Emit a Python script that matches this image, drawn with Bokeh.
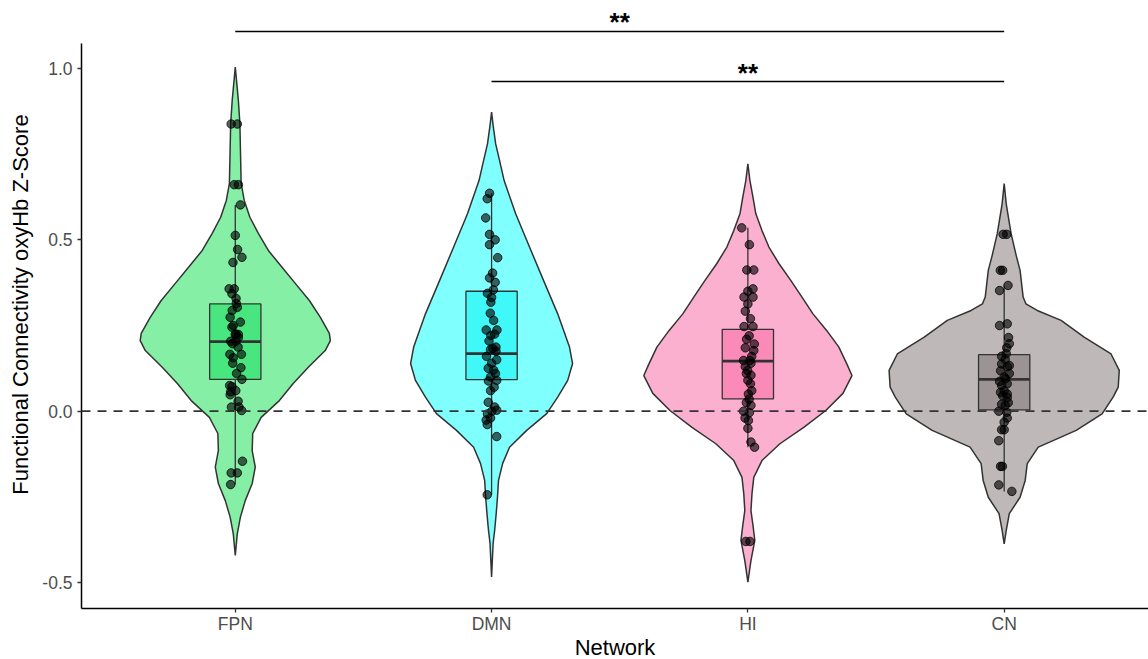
import numpy as np
from bokeh.plotting import figure
from bokeh.models import Range1d, FixedTicker, NumeralTickFormatter, Span, Title
from bokeh.embed import file_html
from bokeh.resources import INLINE
from bokeh.core.properties import value

# ---------------- data ----------------
categories = ["FPN", "DMN", "HI", "CN"]

# violin outlines: y levels and half-widths (category units)
fpn_vy = [1.004, 0.907, 0.839, 0.732, 0.664, 0.615, 0.566, 0.519, 0.469, 0.422, 0.373, 0.323,
          0.274, 0.227, 0.206, 0.177, 0.128, 0.081, 0.031, -0.018, -0.065, -0.115, -0.163,
          -0.211, -0.261, -0.309, -0.357, -0.421]
fpn_vw = [0.0, 0.012, 0.018, 0.021, 0.023, 0.035, 0.057, 0.090, 0.129, 0.180, 0.234, 0.289,
          0.332, 0.367, 0.371, 0.351, 0.285, 0.226, 0.172, 0.101, 0.068, 0.066, 0.078,
          0.066, 0.039, 0.020, 0.008, 0.0]
dmn_vy = [0.873, 0.834, 0.780, 0.732, 0.673, 0.576, 0.479, 0.381, 0.284, 0.187, 0.139, 0.090,
          0.041, -0.007, -0.056, -0.105, -0.153, -0.202, -0.251, -0.299, -0.348, -0.386, -0.484]
dmn_vw = [0.0, 0.006, 0.016, 0.031, 0.049, 0.094, 0.148, 0.203, 0.258, 0.304, 0.316, 0.297,
          0.258, 0.215, 0.137, 0.070, 0.043, 0.027, 0.023, 0.018, 0.012, 0.006, 0.0]
hi_vy = [0.722, 0.673, 0.624, 0.576, 0.527, 0.479, 0.431, 0.381, 0.333, 0.284, 0.235, 0.187,
         0.138, 0.104, 0.052, 0.002, -0.047, -0.095, -0.144, -0.193, -0.241, -0.290, -0.334,
         -0.377, -0.436, -0.499]
hi_vw = [0.0, 0.008, 0.020, 0.031, 0.055, 0.082, 0.121, 0.168, 0.211, 0.254, 0.308, 0.355,
         0.386, 0.406, 0.371, 0.304, 0.218, 0.125, 0.055, 0.023, 0.016, 0.012, 0.020,
         0.027, 0.012, 0.0]
cn_vy = [0.664, 0.605, 0.518, 0.454, 0.411, 0.333, 0.313, 0.294, 0.265, 0.216, 0.167, 0.119,
         0.070, 0.041, -0.008, -0.056, -0.105, -0.153, -0.202, -0.251, -0.299, -0.348, -0.387]
cn_vw = [0.0, 0.008, 0.027, 0.047, 0.062, 0.074, 0.085, 0.129, 0.222, 0.312, 0.417, 0.449,
         0.445, 0.425, 0.382, 0.281, 0.133, 0.090, 0.082, 0.062, 0.020, 0.008, 0.0]

# box statistics
box_lo = [-0.214, -0.244, -0.105, -0.234]
box_q1 = [0.093, 0.092, 0.036, 0.004]
box_med = [0.203, 0.168, 0.146, 0.093]
box_q3 = [0.313, 0.350, 0.239, 0.165]
box_hi = [0.602, 0.636, 0.535, 0.367]

# individual observations (value, horizontal jitter in category units)
fpn_pts = [0.838, 0.838, 0.661, 0.661, 0.602, 0.513, 0.472, 0.449, 0.434, 0.357, 0.357, 0.343,
           0.329, 0.303, 0.274, 0.260, 0.245, 0.225, 0.215, 0.197, 0.314, 0.294, 0.250, 0.224,
           0.224, 0.204, 0.204, 0.187, 0.166, 0.166, 0.156, 0.127, 0.093, 0.075, 0.072, 0.057,
           0.060, 0.048, 0.029, 0.012, 0.012, 0.002, 0.140, 0.110, -0.146, -0.180, -0.180, -0.214]
fpn_jit = [-0.016, 0.008, -0.004, 0.012, 0.020, 0.0, 0.009, 0.026, -0.009, -0.024, -0.004, -0.013,
           0.003, 0.008, -0.020, 0.020, -0.013, 0.003, 0.012, -0.011, 0.004, -0.012, -0.008, 0.0,
           0.012, -0.018, 0.002, 0.011, -0.021, 0.024, -0.008, 0.022, 0.026, -0.022, -0.013, -0.018,
           0.002, -0.020, 0.011, -0.015, 0.014, 0.025, -0.010, 0.005, 0.028, -0.016, 0.008, -0.018]
dmn_pts = [0.636, 0.620, 0.564, 0.516, 0.500, 0.486, 0.448, 0.403, 0.389, 0.376, 0.354, 0.344,
           0.318, 0.286, 0.237, 0.237, 0.221, 0.225, 0.183, 0.175, 0.187, 0.180, 0.150, 0.125,
           0.120, 0.140, 0.100, 0.090, 0.088, 0.060, 0.026, 0.003, 0.0, -0.008, -0.020, -0.026,
           -0.039, -0.074, -0.244, 0.110, 0.205, 0.265, 0.160, 0.070, 0.012, 0.332]
dmn_jit = [-0.008, -0.017, -0.023, -0.008, 0.014, -0.008, 0.024, 0.004, -0.008, 0.014, 0.007, -0.016,
           -0.003, -0.005, -0.021, 0.021, -0.003, 0.012, 0.005, 0.017, 0.017, -0.004, 0.020, -0.013,
           0.008, 0.0, -0.004, 0.020, -0.012, -0.004, -0.013, 0.020, 0.001, -0.016, -0.004, -0.021,
           -0.017, 0.020, -0.017, 0.015, -0.010, 0.008, -0.020, 0.010, 0.012, 0.0]
hi_pts = [0.535, 0.486, 0.412, 0.412, 0.357, 0.350, 0.333, 0.333, 0.313, 0.292, 0.247, 0.247,
          0.210, 0.196, 0.185, 0.177, 0.160, 0.148, 0.148, 0.140, 0.119, 0.110, 0.105, 0.080,
          0.060, 0.050, 0.025, 0.017, 0.0, -0.004, -0.020, -0.027, -0.050, -0.090, -0.105,
          -0.380, -0.380, 0.220, 0.130, 0.090, 0.035, 0.270]
hi_jit = [-0.024, 0.006, -0.004, 0.023, 0.020, 0.0, -0.015, 0.020, 0.0, -0.010, -0.015, 0.020,
          -0.005, 0.025, -0.010, 0.023, 0.015, -0.017, 0.008, 0.012, -0.001, -0.006, 0.012, 0.010,
          0.015, 0.002, -0.006, 0.012, -0.017, 0.006, -0.011, 0.002, 0.0, 0.012, 0.026,
          0.008, -0.008, 0.005, -0.010, 0.0, 0.005, 0.010]
cn_pts = [0.516, 0.516, 0.411, 0.411, 0.367, 0.352, 0.250, 0.255, 0.215, 0.197, 0.168, 0.151,
          0.138, 0.133, 0.118, 0.110, 0.087, 0.080, 0.075, 0.055, 0.050, 0.040, 0.045, 0.025,
          0.017, 0.0, -0.003, -0.020, -0.032, -0.054, -0.054, -0.086, -0.161, -0.161, -0.215,
          -0.234, 0.100, 0.130, 0.060, 0.160, 0.185, 0.020, 0.095]
cn_jit = [0.010, -0.004, -0.015, -0.006, 0.015, -0.018, -0.018, 0.012, 0.017, 0.020, 0.008, 0.004,
          -0.010, 0.020, -0.014, 0.020, -0.018, 0.012, -0.010, -0.014, 0.012, 0.012, -0.006, 0.016,
          0.004, -0.021, 0.010, 0.012, 0.0, -0.010, 0.0, -0.021, -0.014, -0.007, -0.021,
          0.030, 0.0, 0.012, 0.0, -0.010, 0.010, -0.010, 0.005]

# significance brackets
sig_from = ["FPN", "DMN"]
sig_to = ["CN", "CN"]
sig_y = [1.108, 0.962]
sig_label = ["**", "**"]

x_title = "Network"
y_title = "Functional Connectivity oxyHb Z-Score"

# ---------------- style ----------------
violin_colors = ["#86EFA6", "#80FFFF", "#FCB0CF", "#BEB8B8"]
box_colors = ["#49E57F", "#40F8F8", "#FA8AB7", "#9C9494"]
FONT = "Liberation Sans"

violin_y = [fpn_vy, dmn_vy, hi_vy, cn_vy]
violin_w = [fpn_vw, dmn_vw, hi_vw, cn_vw]
points = [fpn_pts, dmn_pts, hi_pts, cn_pts]
jitters = [fpn_jit, dmn_jit, hi_jit, cn_jit]
pos = {c: i + 1 for i, c in enumerate(categories)}

# frame: page y 0 .. 608 ; 342.7 px per unit with zero at page y 410.7
y_top = 410.7 / 342.7
y_bot = (410.7 - 608) / 342.7
x_left = 0.4
x_right = 0.4 + 1067 / 256.3

p = figure(width=1148, height=659, output_backend="svg", toolbar_location=None,
           x_range=Range1d(x_left, x_right), y_range=Range1d(y_bot, y_top),
           min_border_left=81, min_border_right=0, min_border_top=0, min_border_bottom=51)
p.outline_line_color = None
p.grid.visible = False
p.background_fill_color = "white"

# violins
xs, ys = [], []
for c, vy, vw in zip(categories, violin_y, violin_w):
    xc = pos[c]
    xs.append([xc + w for w in vw] + [xc - w for w in reversed(vw)])
    ys.append(list(vy) + list(reversed(vy)))
p.patches(xs, ys, fill_color=violin_colors, line_color="#333333", line_width=1.5)

# zero reference line
p.add_layout(Span(location=0, dimension="width", line_color="#333333", line_width=1.8,
                  line_dash="9 7"))

# boxplots
xc = [pos[c] for c in categories]
p.segment(x0=xc, x1=xc, y0=box_lo, y1=box_q1, line_color="#333333", line_width=1.3)
p.segment(x0=xc, x1=xc, y0=box_q3, y1=box_hi, line_color="#333333", line_width=1.3)
p.quad(left=[x - 0.1 for x in xc], right=[x + 0.1 for x in xc], bottom=box_q1, top=box_q3,
       fill_color=box_colors, line_color="#333333", line_width=1.3)
p.segment(x0=[x - 0.1 for x in xc], x1=[x + 0.1 for x in xc], y0=box_med, y1=box_med,
          line_color="#333333", line_width=2.6)

# jittered points
for c, pts, jit in zip(categories, points, jitters):
    p.scatter([pos[c] + j for j in jit], pts, size=8.5, fill_color="black", fill_alpha=0.62,
              line_color="black", line_alpha=0.75, line_width=1)

# significance brackets
p.segment(x0=[pos[a] for a in sig_from], x1=[pos[b] for b in sig_to], y0=sig_y, y1=sig_y,
          line_color="black", line_width=1.5)
p.text(x=[(pos[a] + pos[b]) / 2 for a, b in zip(sig_from, sig_to)], y=sig_y, text=sig_label,
       text_align="center", text_baseline="alphabetic", text_font=value(FONT),
       text_font_size="26px", text_font_style="bold", text_color="black", y_offset=-9)

# axes
p.xaxis.ticker = FixedTicker(ticks=[pos[c] for c in categories])
p.xaxis.major_label_overrides = {pos[c]: c for c in categories}
p.yaxis.ticker = FixedTicker(ticks=[-0.5, 0.0, 0.5, 1.0])
p.yaxis.formatter = NumeralTickFormatter(format="0.0")
p.yaxis.bounds = (y_bot, 1.073)
for ax in (p.xaxis, p.yaxis):
    ax.axis_line_color = "black"
    ax.axis_line_width = 1.5
    ax.major_tick_line_color = "#333333"
    ax.major_tick_line_width = 1.3
    ax.major_tick_out = 4
    ax.major_tick_in = 0
    ax.minor_tick_line_color = None
    ax.major_label_text_font = FONT
    ax.major_label_text_font_size = "17.5px"
    ax.major_label_text_color = "#4D4D4D"
    ax.axis_label_text_font = FONT
    ax.axis_label_text_font_size = "22px"
    ax.axis_label_text_font_style = "normal"
    ax.axis_label_text_color = "black"
p.yaxis.axis_label = y_title
p.xaxis.major_label_standoff = 1
p.yaxis.major_label_standoff = 5
p.yaxis.axis_label_standoff = 6

# x axis title as a panel below the axis
p.add_layout(Title(text=x_title, align="center", offset=4, standoff=-8,
                   text_font=FONT, text_font_size="22px", text_font_style="normal",
                   text_color="black", vertical_align="bottom"), "below")

open("out.html", "w").write(file_html(p, INLINE))
